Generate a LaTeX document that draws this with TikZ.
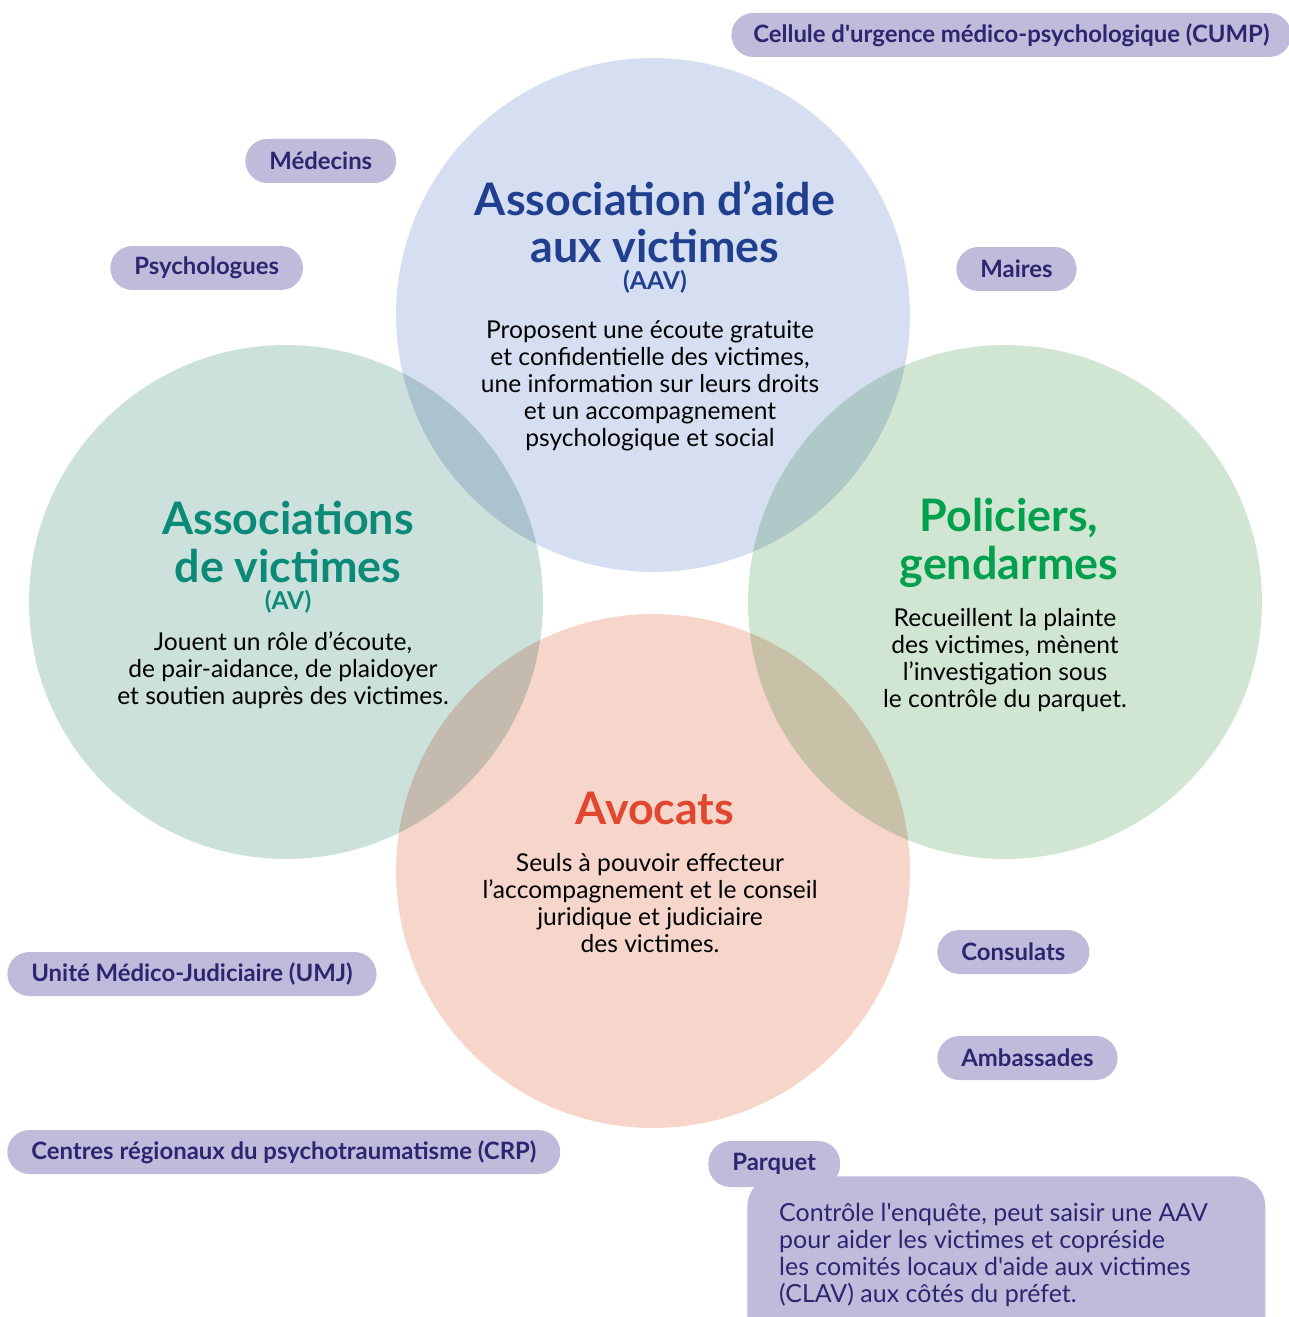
\documentclass[tikz,border=0pt]{standalone}
\usepackage{fontspec}
\setmainfont{Lato}[Ligatures=TeXOff]
\usetikzlibrary{positioning}
\definecolor{aavfill}{HTML}{D6DFF1}
\definecolor{avfill}{HTML}{CCE0DC}
\definecolor{polfill}{HTML}{D0E6D3}
\definecolor{avofill}{HTML}{F6D6CA}
\definecolor{pillfill}{HTML}{C0BBDB}
\definecolor{pilltext}{HTML}{2B2670}
\definecolor{aavtitle}{HTML}{213F8F}
\definecolor{avtitle}{HTML}{0A8A77}
\definecolor{poltitle}{HTML}{00A04E}
\definecolor{avotitle}{HTML}{E1462F}

\begin{document}
\begin{tikzpicture}[
        x=0.02cm, y=-0.02cm,
        cercle/.style={circle, minimum size=10.28cm, inner sep=0pt},
        titre/.style={anchor=base, align=center, font=\bfseries\fontsize{25.5}{27.2}\selectfont},
        sigle/.style={anchor=base, font=\bfseries\fontsize{14}{15}\selectfont},
        texte/.style={anchor=base, align=center, font=\fontsize{14}{15.3}\selectfont},
        pill/.style={anchor=west, fill=pillfill, text=pilltext, rounded corners=0.44cm,
                     minimum height=0.88cm, inner xsep=0.48cm, inner ysep=0pt,
                     font=\bfseries\fontsize{13.6}{15}\selectfont},
    ]
        \useasboundingbox (0,0) rectangle (1288,1317);

        % les quatre cercles
        \begin{scope}[blend group=multiply]
            \node[cercle, fill=aavfill] (aav) at (653,315) {};
            \node[cercle, fill=avfill] (av) at (286,602) {};
            \node[cercle, fill=polfill] (pol) at (1005,602) {};
            \node[cercle, fill=avofill] (avo) at (653,871) {};
        \end{scope}

        % AAV
        \node[titre, text=aavtitle] (aavtitre) at (655,263) {Association d’aide\\aux victimes};
        \node[sigle, text=aavtitle] (aavsigle) at (655,290) {(AAV)};
        \node[texte] (aavtexte) at (650,446) {Proposent une écoute gratuite\\et confidentielle des victimes,\\une information sur leurs droits\\et un accompagnement\\psychologique et social};

        % AV
        \node[titre, text=avtitle] (avtitre) at (288,582) {Associations\\de victimes};
        \node[sigle, text=avtitle] (avsigle) at (288,609) {(AV)};
        \node[texte] (avtexte) at (283,704) {Jouent un rôle d’écoute,\\de pair-aidance, de plaidoyer\\et soutien auprès des victimes.};

        % policiers
        \node[titre, text=poltitle] (poltitre) at (1009,579) {Policiers,\\gendarmes};
        \node[texte] (poltexte) at (1005,707) {Recueillent la plainte\\des victimes, mènent\\l’investigation sous\\le contrôle du parquet.};

        % avocats
        \node[titre, text=avotitle] (avotitre) at (655,824) {Avocats};
        \node[texte] (avotexte) at (650,952) {Seuls à pouvoir effecteur\\l’accompagnement et le conseil\\juridique et judiciaire\\des victimes.};

        % acteurs autour
        \node[pill, inner xsep=0.32cm, minimum width=11.2cm] (cump) at (731,35) {Cellule d'urgence médico-psychologique (CUMP)};
        \node[pill] (medecins) at (245,161) {Médecins};
        \node[pill] (psy) at (110,268) {Psychologues};
        \node[pill] (maires) at (956,269) {Maires};
        \node[pill] (consulats) at (937,952) {Consulats};
        \node[pill] (umj) at (7,974) {Unité Médico-Judiciaire (UMJ)};
        \node[pill] (ambassades) at (937,1058) {Ambassades};
        \node[pill] (crp) at (7,1152) {Centres régionaux du psychotraumatisme (CRP)};

        % parquet
        \node[pill, minimum height=0.92cm] (parquet) at (708,1164) {Parquet};
        \node[anchor=north west, fill=pillfill, rounded corners=0.6cm,
              minimum width=10.36cm, minimum height=3.6cm] (parquetbox) at (747,1176) {};
        \node[anchor=base west, align=left, text=pilltext, font=\fontsize{14.2}{15.3}\selectfont]
            (parquettexte) at (773,1302) {Contrôle l'enquête, peut saisir une AAV\\pour aider les victimes et copréside\\les comités locaux d'aide aux victimes\\(CLAV) aux côtés du préfet.};

    \end{tikzpicture}
\end{document}
